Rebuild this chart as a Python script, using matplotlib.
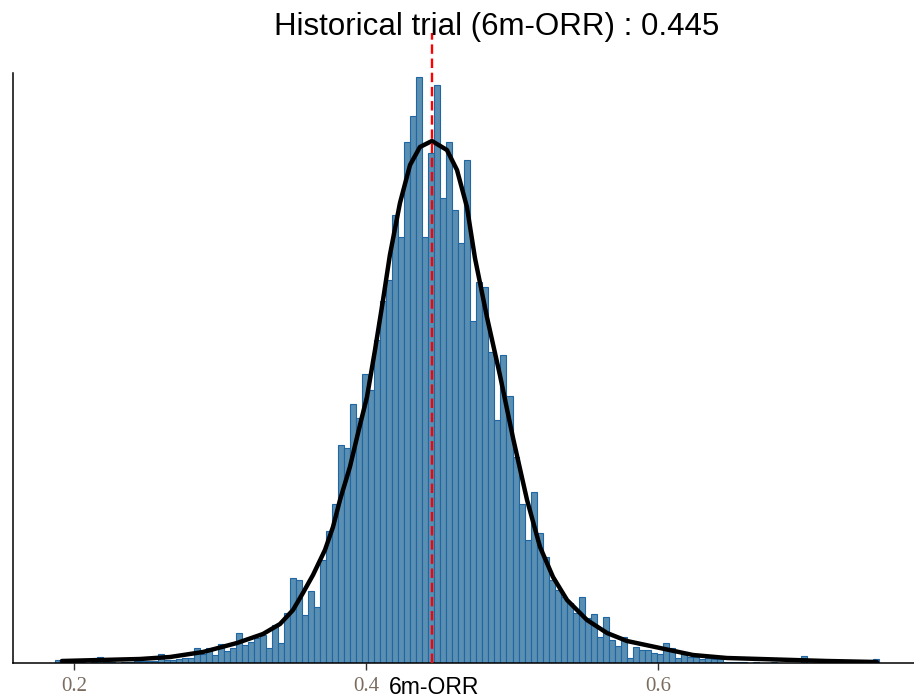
import matplotlib
matplotlib.use("Agg")
import matplotlib.pyplot as plt
import numpy as np

# histogram: bin range and heights (arbitrary count units)
bin_start = 0.18711
bin_width = 0.0041227
counts = [
    3, 0, 0, 1, 1, 0, 1, 6, 1, 1,
    0, 1, 1, 2, 2, 2, 2, 9, 3, 3,
    4, 5, 5, 15, 9, 15, 8, 19, 12, 15,
    30, 18, 21, 25, 28, 15, 38, 20, 50, 85,
    83, 48, 72, 56, 103, 132, 159, 218, 215, 259,
    245, 289, 273, 323, 362, 383, 448, 426, 521, 547,
    586, 426, 510, 578, 465, 521, 453, 420, 503, 342,
    381, 376, 311, 243, 308, 267, 206, 159, 123, 171,
    130, 106, 83, 73, 66, 60, 50, 66, 45, 49,
    26, 46, 23, 17, 26, 5, 16, 13, 13, 10,
    9, 20, 15, 5, 11, 6, 6, 4, 5, 4,
    4, 1, 1, 1, 1, 0, 1, 0, 0, 1,
    0, 0, 0, 0, 7, 0, 0, 0, 0, 0,
    0, 0, 0, 0, 0, 0, 4,
]

# fitted density curve
curve_x = [0.1916, 0.2177, 0.2451, 0.2657, 0.2883, 0.3116, 0.3294, 0.3411, 0.3500, 0.3568,
           0.3637, 0.3719, 0.3774, 0.3822, 0.3890, 0.3959, 0.4007, 0.4062, 0.4117, 0.4164,
           0.4233, 0.4302, 0.4370, 0.4452, 0.4555, 0.4624, 0.4692, 0.4747, 0.4829, 0.4918,
           0.5008, 0.5104, 0.5193, 0.5282, 0.5378, 0.5515, 0.5652, 0.5789, 0.6015, 0.6241,
           0.6474, 0.6700, 0.7160, 0.7502]
curve_y = [2, 3, 4, 6, 11, 20, 29, 39, 53, 70,
           88, 113, 136, 163, 196, 238, 266, 313, 363, 408,
           460, 498, 516, 522, 513, 493, 456, 405, 346, 288,
           225, 163, 116, 86, 63, 43, 30, 22, 15, 8,
           5, 4, 2, 1]

historical = 0.445
xticks = [0.2, 0.4, 0.6]
title = "Historical trial (6m-ORR) : 0.445"
xlabel = "6m-ORR"

W, H = 914, 698
fig = plt.figure(figsize=(W / 100, H / 100), dpi=100)
ax = fig.add_axes([13 / W, 35 / H, 901 / W, 590 / H])

edges = bin_start + bin_width * np.arange(len(counts))
ax.bar(edges, counts, width=bin_width, align="edge",
       color="#5a8fb2", edgecolor="#1f66a2", linewidth=0.8, zorder=2)
ax.plot(curve_x, curve_y, color="black", linewidth=3.2, zorder=3,
        solid_capstyle="round", solid_joinstyle="round")
ax.axvline(historical, ymin=0, ymax=1.068, color="red", linestyle=(0, (4, 2)),
           linewidth=1.7, clip_on=False, zorder=4)

ax.set_xlim(0.1581, 0.7756)
ax.set_ylim(0, 590)
ax.set_yticks([])
ax.set_xticks(xticks)
ax.set_xticklabels([f"{t:.1f}" for t in xticks], family="Liberation Serif",
                   fontsize=15, color="#7a6c60")
ax.tick_params(axis="x", length=5, width=1, color="#333333", pad=5)
for s in ["top", "right"]:
    ax.spines[s].set_visible(False)
ax.spines["left"].set_linewidth(1.1)
ax.spines["bottom"].set_linewidth(1.1)

fig.text(434 / W, 1 - 688 / H, xlabel, family="Liberation Sans", fontsize=16.5,
         ha="center", va="center")
fig.text(497 / W, 1 - 27 / H, title, family="Liberation Sans", fontsize=22.5,
         ha="center", va="center")

fig.savefig("out.png", dpi=100)
